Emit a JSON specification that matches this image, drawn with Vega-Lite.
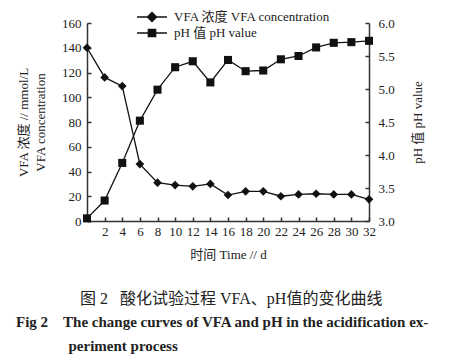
{
  "$schema": "https://vega.github.io/schema/vega-lite/v6.json",
  "width": 282,
  "height": 198,
  "padding": {"left": 16, "top": 8, "right": 5, "bottom": 5},
  "config": {
    "font": "Liberation Serif, Noto Sans CJK SC",
    "view": {"stroke": null},
    "axis": {
      "grid": false,
      "domainColor": "#333333",
      "domainWidth": 1.5,
      "tickColor": "#333333",
      "tickWidth": 1.5,
      "tickSize": -4,
      "labelPadding": 9,
      "labelFontSize": 13,
      "labelColor": "#222222",
      "titleFontSize": 13,
      "titleFontWeight": "normal",
      "titleColor": "#222222"
    },
    "legend": {
      "title": null,
      "orient": "none",
      "legendX": 56,
      "legendY": -15,
      "symbolSize": 300,
      "symbolFillColor": "#111111",
      "symbolStrokeWidth": 0,
      "symbolOpacity": 1,
      "labelFontSize": 13,
      "labelColor": "#222222",
      "labelOffset": 13,
      "labelLimit": 400,
      "rowPadding": 0
    }
  },
  "title": {
    "text": "\u200b\u3000\u3000\u3000\u3000图 2\u00a0\u00a0\u00a0酸化试验过程\u00a0VFA、pH值的变化曲线",
    "orient": "bottom",
    "anchor": "start",
    "frame": "group",
    "dx": -71,
    "fontSize": 16,
    "fontWeight": "normal",
    "color": "#222222",
    "offset": 30,
    "subtitle": ["Fig\u00a02\u00a0\u00a0\u00a0\u00a0The change curves of VFA and pH in the acidification ex-", "\u200b\u00a0\u00a0\u00a0\u00a0\u00a0\u00a0\u00a0\u00a0\u00a0\u00a0\u00a0\u00a0\u00a0\u00a0periment process"],
    "subtitleFontSize": 15,
    "subtitleFontWeight": "bold",
    "subtitleColor": "#222222",
    "subtitleLineHeight": 24,
    "subtitlePadding": 8
  },
  "data": {
    "values": [
      {"day": 0, "series": "VFA 浓度 VFA concentration", "value": 140},
      {"day": 2, "series": "VFA 浓度 VFA concentration", "value": 116},
      {"day": 4, "series": "VFA 浓度 VFA concentration", "value": 109},
      {"day": 6, "series": "VFA 浓度 VFA concentration", "value": 46},
      {"day": 8, "series": "VFA 浓度 VFA concentration", "value": 31},
      {"day": 10, "series": "VFA 浓度 VFA concentration", "value": 29},
      {"day": 12, "series": "VFA 浓度 VFA concentration", "value": 28},
      {"day": 14, "series": "VFA 浓度 VFA concentration", "value": 30},
      {"day": 16, "series": "VFA 浓度 VFA concentration", "value": 21},
      {"day": 18, "series": "VFA 浓度 VFA concentration", "value": 24},
      {"day": 20, "series": "VFA 浓度 VFA concentration", "value": 24},
      {"day": 22, "series": "VFA 浓度 VFA concentration", "value": 20},
      {"day": 24, "series": "VFA 浓度 VFA concentration", "value": 21.5},
      {"day": 26, "series": "VFA 浓度 VFA concentration", "value": 22},
      {"day": 28, "series": "VFA 浓度 VFA concentration", "value": 21.5},
      {"day": 30, "series": "VFA 浓度 VFA concentration", "value": 21.5},
      {"day": 32, "series": "VFA 浓度 VFA concentration", "value": 17.5},
      {"day": 0, "series": "pH 值 pH value", "value": 3.04},
      {"day": 2, "series": "pH 值 pH value", "value": 3.31},
      {"day": 4, "series": "pH 值 pH value", "value": 3.88},
      {"day": 6, "series": "pH 值 pH value", "value": 4.52},
      {"day": 8, "series": "pH 值 pH value", "value": 4.99},
      {"day": 10, "series": "pH 值 pH value", "value": 5.33},
      {"day": 12, "series": "pH 值 pH value", "value": 5.42},
      {"day": 14, "series": "pH 值 pH value", "value": 5.10},
      {"day": 16, "series": "pH 值 pH value", "value": 5.44},
      {"day": 18, "series": "pH 值 pH value", "value": 5.27},
      {"day": 20, "series": "pH 值 pH value", "value": 5.28},
      {"day": 22, "series": "pH 值 pH value", "value": 5.45},
      {"day": 24, "series": "pH 值 pH value", "value": 5.50},
      {"day": 26, "series": "pH 值 pH value", "value": 5.63},
      {"day": 28, "series": "pH 值 pH value", "value": 5.70},
      {"day": 30, "series": "pH 值 pH value", "value": 5.71},
      {"day": 32, "series": "pH 值 pH value", "value": 5.73}
    ]
  },
  "encoding": {
    "x": {
      "field": "day",
      "type": "quantitative",
      "scale": {"domain": [0, 32], "nice": false},
      "axis": {
        "title": "时间 Time // d",
        "values": [2, 4, 6, 8, 10, 12, 14, 16, 18, 20, 22, 24, 26, 28, 30, 32],
        "labelFlush": false,
        "labelPadding": 8,
        "titlePadding": 10
      }
    }
  },
  "layer": [
    {
      "transform": [{"filter": "datum.series === 'VFA 浓度 VFA concentration'"}],
      "encoding": {
        "y": {
          "field": "value",
          "type": "quantitative",
          "scale": {"domain": [0, 160], "nice": false},
          "axis": {
            "orient": "left",
            "title": ["VFA 浓度 // mmol/L", "VFA concentration"],
            "titleLineHeight": 17,
            "values": [0, 20, 40, 60, 80, 100, 120, 140, 160],
            "labelPadding": 10,
            "titlePadding": 14
          }
        }
      },
      "layer": [
        {"mark": {"type": "line", "color": "#111111", "strokeWidth": 1.3}},
        {
          "mark": {"type": "point", "filled": true, "shape": "diamond", "size": 75, "opacity": 1},
          "encoding": {
            "color": {
              "field": "series",
              "type": "nominal",
              "scale": {"domain": ["VFA 浓度 VFA concentration", "pH 值 pH value"], "range": ["#111111", "#111111"]},
              "legend": {
                "encoding": {
                  "symbols": {
                    "shape": {
                      "condition": {"test": "datum.value === 'pH 值 pH value'", "value": "M-1.73,-0.075H1.73V0.075H-1.73Z M-0.5,-0.5H0.5V0.5H-0.5Z"},
                      "value": "M-1.73,-0.075H1.73V0.075H-1.73Z M0,-0.64L0.64,0L0,0.64L-0.64,0Z"
                    },
                    "fill": {"value": "#111111"}
                  }
                }
              }
            }
          }
        }
      ]
    },
    {
      "transform": [{"filter": "datum.series === 'pH 值 pH value'"}],
      "encoding": {
        "y": {
          "field": "value",
          "type": "quantitative",
          "scale": {"domain": [3, 6], "nice": false},
          "axis": {
            "orient": "right",
            "title": "pH 值  pH value",
            "titleAngle": 270,
            "format": ".1f",
            "values": [3, 3.5, 4, 4.5, 5, 5.5, 6],
            "labelPadding": 13,
            "titlePadding": 30
          }
        }
      },
      "layer": [
        {"mark": {"type": "line", "color": "#111111", "strokeWidth": 1.3}},
        {
          "mark": {"type": "point", "filled": true, "shape": "square", "size": 65, "opacity": 1},
          "encoding": {
            "color": {
              "field": "series",
              "type": "nominal",
              "scale": {"domain": ["VFA 浓度 VFA concentration", "pH 值 pH value"], "range": ["#111111", "#111111"]},
              "legend": {
                "encoding": {
                  "symbols": {
                    "shape": {
                      "condition": {"test": "datum.value === 'pH 值 pH value'", "value": "M-1.73,-0.075H1.73V0.075H-1.73Z M-0.5,-0.5H0.5V0.5H-0.5Z"},
                      "value": "M-1.73,-0.075H1.73V0.075H-1.73Z M0,-0.64L0.64,0L0,0.64L-0.64,0Z"
                    },
                    "fill": {"value": "#111111"}
                  }
                }
              }
            }
          }
        }
      ]
    }
  ],
  "resolve": {"scale": {"y": "independent"}}
}
